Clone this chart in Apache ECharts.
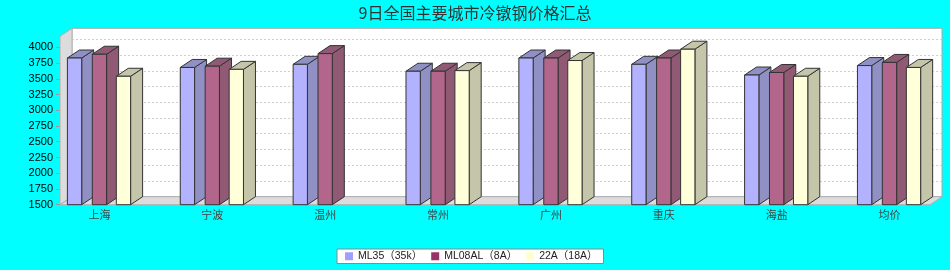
<!DOCTYPE html>
<html><head><meta charset="utf-8">
<script src="https://cdn.jsdelivr.net/npm/echarts@6/dist/echarts.min.js"></script>
<style>html,body{margin:0;padding:0;background:#00ffff}#c{width:950px;height:270px}</style>
</head><body><div id="c"></div>
<script>
const titleText = '9日全国主要城市冷镦钢价格汇总';
const categories = ['上海','宁波','温州','常州','广州','重庆','海盐','均价'];
const seriesNames = ['ML35（35k）','ML08AL（8A）','22A（18A）'];
const ml35 = [3830,3680,3730,3620,3830,3730,3560,3710];
const ml08al = [3890,3700,3900,3620,3830,3830,3600,3760];
const a22 = [3540,3650,null,3630,3790,3970,3540,3680];
const yTickLabels = [1500,1750,2000,2250,2500,2750,3000,3250,3500,3750,4000];

const Y_MIN = 1500, Y_MAX = 4175;
const DX = 12, DY = 8;
const legendColors = ['#9f9fff','#993366','#ffffcc'];
const frontColors = ['#b2b2ff','#b2668c','#ffffd9'];
const sideColors = ['#9090c5','#905a75','#c5c5aa'];
const OFF = [-0.2844,-0.0638,0.1489];
const BW = 0.1267;
const allData = [ml35, ml08al, a22];

const gTop = 36.3, gH = 168.4;

function barRender(si){
  return function(params, api){
    const v = api.value(1);
    if (v == null || isNaN(v)) return null;
    const i = api.value(0);
    const c = api.coord([i, v]);
    const b = api.coord([i, Y_MIN]);
    const band = api.size([1,0])[0];
    const x0 = c[0] + OFF[si]*band, x1 = x0 + BW*band;
    const yt = c[1], yb = b[1];
    const st = {stroke:'#333', lineWidth:1};
    return {type:'group', children:[
      {type:'polygon', shape:{points:[[x1,yt],[x1+DX,yt-DY],[x1+DX,yb-DY],[x1,yb]]}, style:Object.assign({fill:sideColors[si]}, st)},
      {type:'polygon', shape:{points:[[x0,yt],[x0+DX,yt-DY],[x1+DX,yt-DY],[x1,yt]]}, style:Object.assign({fill:sideColors[si]}, st)},
      {type:'rect', shape:{x:x0, y:yt, width:x1-x0, height:yb-yt}, style:Object.assign({fill:frontColors[si]}, st)}
    ]};
  };
}

function wallRender(params, api){
  const cs = params.coordSys;
  const x = cs.x, y = cs.y, w = cs.width, h = cs.height;
  const st = {fill:'#dcdcdc', stroke:'#b0b0b0', lineWidth:1};
  return {type:'group', children:[
    {type:'polygon', shape:{points:[[x,y],[x+DX,y-DY],[x+DX,y+h-DY],[x,y+h]]}, style:st},
    {type:'polygon', shape:{points:[[x,y+h],[x+DX,y+h-DY],[x+w+DX,y+h-DY],[x+w,y+h]]}, style:st}
  ]};
}

const chart = echarts.init(document.getElementById('c'), null, {renderer:'canvas'});
const series = [{
  type:'custom', name:'_walls', xAxisIndex:0, yAxisIndex:0, renderItem: wallRender,
  data:[[0, Y_MIN]], encode:{x:0,y:1}, silent:true, z:2
}];
allData.forEach((arr, si) => {
  series.push({
    type:'custom', name: seriesNames[si], xAxisIndex:2, yAxisIndex:2,
    renderItem: barRender(si), encode:{x:0,y:1}, z:3,
    itemStyle:{color: legendColors[si]},
    data: arr.map((v,i)=>[i, v==null?'-':v])
  });
});

chart.setOption({
  backgroundColor:'#00ffff',
  animation:false,
  title:{text:titleText, left:'center', top:0,
    textStyle:{fontSize:16, fontWeight:'normal', color:'#333', fontFamily:'Noto Sans CJK SC'}},
  legend:{data:seriesNames, left:337, top:249, itemWidth:8, itemHeight:8, itemGap:9,
    backgroundColor:'#fff', borderColor:'#888', borderWidth:1, padding:[2,6,2,8], icon:'rect',
    textStyle:{fontSize:10.5, color:'#222', fontFamily:'Liberation Sans, Noto Sans CJK SC'}},
  grid:[
    {left:60, top:gTop, width:870, height:gH},
    {left:72, top:gTop-DY, width:870, height:gH, show:true, backgroundColor:'#fff', borderColor:'#aaa', borderWidth:1},
    {left:43.07, top:gTop, width:902.9, height:gH}
  ],
  xAxis:[
    {type:'value', gridIndex:0, min:0, max:1, show:false},
    {type:'value', gridIndex:1, min:0, max:1, show:false},
    {type:'category', gridIndex:2, data:categories, axisLine:{show:false}, axisTick:{show:false},
      axisLabel:{fontSize:11, color:'#444', margin:5, fontFamily:'Noto Sans CJK SC'}, splitLine:{show:false}}
  ],
  yAxis:[
    {type:'value', gridIndex:0, min:Y_MIN, max:Y_MAX, interval:250,
      axisLine:{show:true, lineStyle:{color:'#999'}},
      axisTick:{show:true, length:4, lineStyle:{color:'#999'}, customValues:yTickLabels},
      axisLabel:{fontSize:11, color:'#000', margin:7, fontFamily:'Liberation Sans', customValues:yTickLabels,
        formatter: v => String(v)},
      splitLine:{show:false}},
    {type:'value', gridIndex:1, min:Y_MIN, max:Y_MAX, interval:250,
      axisLine:{show:false}, axisTick:{show:false, customValues:yTickLabels}, axisLabel:{show:false, customValues:yTickLabels},
      splitLine:{show:true, lineStyle:{color:'#d0d0d0', type:[2,2], width:1}}},
    {type:'value', gridIndex:2, min:Y_MIN, max:Y_MAX, show:false, splitLine:{show:false}}
  ],
  series: series
});
</script></body></html>
